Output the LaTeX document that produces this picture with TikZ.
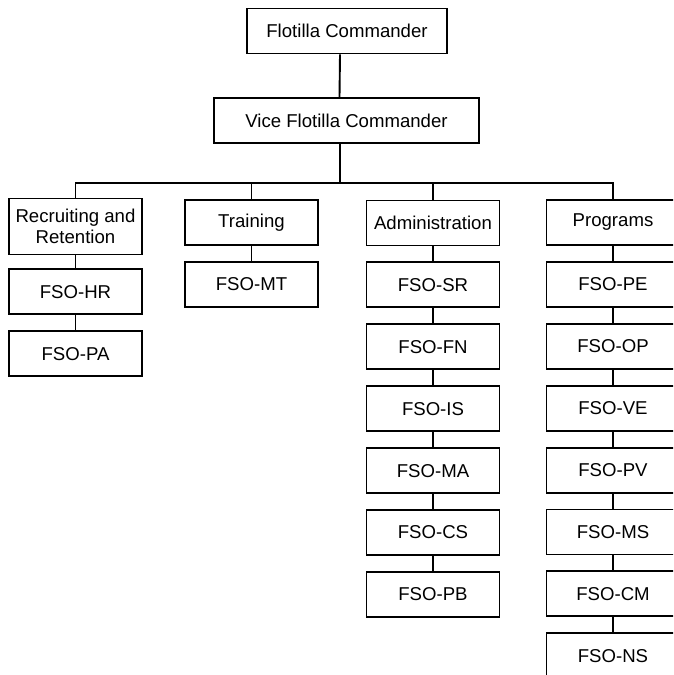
\documentclass[tikz,border=0pt]{standalone}
\usepackage{fontspec}
\setmainfont{Liberation Sans}
\usetikzlibrary{positioning}

\begin{document}
\begin{tikzpicture}[x=1pt,y=-1pt,
  box/.style={draw,line width=1.9pt,minimum width=133pt,minimum height=45pt,inner sep=0pt,align=center,font=\fontsize{18.6}{21}\selectfont},
  link/.style={line width=1.9pt}]
\useasboundingbox (0,0) rectangle (673,675);
\clip (0,0) rectangle (673,675);

\node[box,minimum width=200pt] (fc) at (347,31) {Flotilla Commander};
\node[box,minimum width=265pt] (vfc) at (346.5,120.5) {Vice Flotilla Commander};

\node[box,minimum height=56pt] (rr) at (75.5,226.5) {Recruiting and\\Retention};
\node[box] (tr) at (251.5,222.5) {Training};
\node[box] (adm) at (433,223) {Administration};
\node[box] (prg) at (613,222.5) {Programs};

\node[box,below=13pt of rr] (hr) {FSO-HR};
\node[box,below=15pt of hr] (pa) {FSO-PA};

\node[box,below=15pt of tr] (mt) {FSO-MT};

\node[box,below=15pt of adm] (sr) {FSO-SR};
\node[box,below=15pt of sr] (fn) {FSO-FN};
\node[box,below=15pt of fn] (is) {FSO-IS};
\node[box,below=15pt of is] (ma) {FSO-MA};
\node[box,below=15pt of ma] (cs) {FSO-CS};
\node[box,below=15pt of cs] (pb) {FSO-PB};

\node[box,below=15pt of prg] (pe) {FSO-PE};
\node[box,below=15pt of pe] (op) {FSO-OP};
\node[box,below=15pt of op] (ve) {FSO-VE};
\node[box,below=15pt of ve] (pv) {FSO-PV};
\node[box,below=15pt of pv] (ms) {FSO-MS};
\node[box,below=15pt of ms] (cm) {FSO-CM};
\node[box,below=15pt of cm] (ns) {FSO-NS};

\coordinate (bus) at (340,183);
\draw[link] ([xshift=-7pt]fc.south) -- ([xshift=-7pt]vfc.north);
\draw[link] ([xshift=-6.5pt]vfc.south) -- (bus);
\draw[link] (rr.north) |- (bus) -| (prg.north);
\draw[link] (tr.north) -- (tr.north |- bus);
\draw[link] (adm.north) -- (adm.north |- bus);

\draw[link] (rr) -- (hr) -- (pa);
\draw[link] (tr) -- (mt);
\draw[link] (adm) -- (sr) -- (fn) -- (is) -- (ma) -- (cs) -- (pb);
\draw[link] (prg) -- (pe) -- (op) -- (ve) -- (pv) -- (ms) -- (cm) -- (ns);

\end{tikzpicture}
\end{document}
